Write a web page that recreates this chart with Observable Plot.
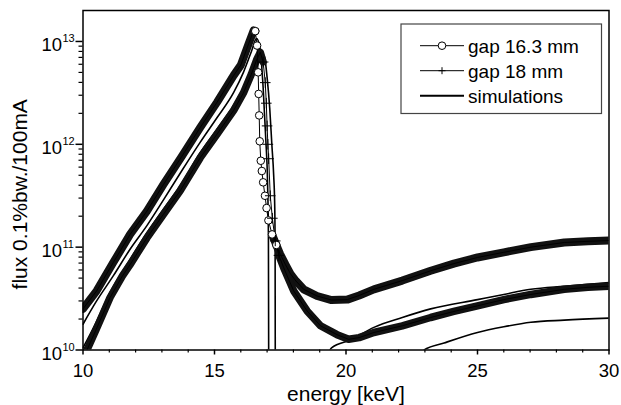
<!DOCTYPE html>
<html>
<head>
<meta charset="utf-8">
<script src="https://cdn.jsdelivr.net/npm/d3@7"></script>
<script src="https://cdn.jsdelivr.net/npm/@observablehq/plot@0.6"></script>
<style>
  html, body { margin: 0; padding: 0; background: #fff; }
  #chart { position: relative; width: 621px; height: 405px; }
</style>
</head>
<body>
<div id="chart"></div>
<script>
// ---- data ----
const xLabel = "energy [keV]";
const yLabel = "flux 0.1%bw./100mA";
const xMajorTicks = [10, 15, 20, 25, 30];
const xMinorTicks = [11, 12, 13, 14, 16, 17, 18, 19, 21, 22, 23, 24, 26, 27, 28, 29];
const yMajorTicks = [1e10, 1e11, 1e12, 1e13];
const yMinorTicks = [2e10, 3e10, 4e10, 5e10, 6e10, 7e10, 8e10, 9e10,
                     2e11, 3e11, 4e11, 5e11, 6e11, 7e11, 8e11, 9e11,
                     2e12, 3e12, 4e12, 5e12, 6e12, 7e12, 8e12, 9e12];
const legendLabels = ["gap 16.3 mm", "gap 18 mm", "simulations"];

// measured, gap 16.3 mm (circles)
const energyGap163 = [10.0, 10.52, 11.15, 11.79, 12.43, 13.06, 13.75, 14.46, 15.1, 15.73, 16.0, 16.3, 16.49, 16.55,
  16.62, 16.66, 16.68, 16.70, 16.72, 16.76, 16.80, 16.85, 16.92, 16.98, 17.05, 17.19, 17.35, 17.50, 17.70, 17.89,
  18.10, 18.39, 18.90, 19.45, 20.05, 20.50, 21.06, 22.14, 23.22, 24.10, 25.00, 26.00, 27.03, 28.30, 29.20, 30.00];
const fluxGap163 = [2.51e10, 3.76e10, 7.08e10, 1.33e11, 2.24e11, 4.07e11, 7.59e11, 1.46e12, 2.57e12, 4.68e12, 5.89e12, 9.55e12, 1.28e13, 1.26e13,
  9.12e12, 5.01e12, 3.09e12, 1.91e12, 1.07e12, 6.92e11, 5.50e11, 4.27e11, 3.16e11, 2.40e11, 1.82e11, 1.33e11, 1.05e11, 8.51e10, 6.76e10, 5.50e10,
  4.68e10, 3.89e10, 3.35e10, 3.06e10, 3.09e10, 3.39e10, 3.89e10, 4.73e10, 5.89e10, 6.92e10, 7.94e10, 8.91e10, 1.00e11, 1.11e11, 1.14e11, 1.16e11];

// measured, gap 18 mm (plus signs)
const energyGap18 = [10.15, 10.5, 11.03, 11.5, 11.79, 12.43, 13.06, 13.70, 14.46, 15.1, 15.73, 16.1, 16.4, 16.6, 16.74,
  16.85, 16.93, 16.97, 17.0, 17.03, 17.06, 17.12, 17.2, 17.31, 17.45, 17.63, 18.01, 18.52, 19.03, 19.66, 20.1, 20.5,
  21.06, 22.14, 23.22, 24.1, 25.0, 26.0, 27.03, 28.3, 29.2, 30.0];
const fluxGap18 = [1.00e10, 1.58e10, 3.24e10, 5.25e10, 6.76e10, 1.23e11, 2.09e11, 3.55e11, 7.41e11, 1.26e12, 2.14e12, 3.16e12, 4.79e12, 6.61e12, 7.85e12,
  6.31e12, 3.98e12, 2.51e12, 1.51e12, 1.00e12, 7.24e11, 3.16e11, 1.91e11, 1.15e11, 8.32e10, 6.31e10, 3.76e10, 2.40e10, 1.72e10, 1.41e10, 1.27e10, 1.32e10,
  1.48e10, 1.72e10, 2.07e10, 2.37e10, 2.69e10, 3.09e10, 3.47e10, 3.89e10, 4.07e10, 4.17e10];

// simulations
const energySim163 = [10.0, 10.5, 11.15, 11.79, 12.43, 13.06, 13.75, 14.46, 15.1, 15.73, 16.1, 16.4, 16.6, 16.72, 16.85, 16.95, 17.02, 17.05, 17.06, 17.062];
const fluxSim163 = [1.78e10, 2.95e10, 5.25e10, 9.55e10, 1.62e11, 2.88e11, 5.50e11, 1.05e12, 1.82e12, 3.20e12, 5.01e12, 7.94e12, 1.07e13, 8.91e12, 3.55e12, 1.12e12, 3.98e11, 1.26e11, 1.0e10, 7.9e9];
const energySim18 = [10.0, 10.5, 11.03, 11.79, 12.43, 13.06, 13.70, 14.46, 15.1, 15.73, 16.1, 16.4, 16.6, 16.8, 16.9, 17.0, 17.1, 17.18, 17.25, 17.29, 17.305, 17.31, 17.312];
const fluxSim18 = [1.05e10, 1.86e10, 3.63e10, 7.59e10, 1.38e11, 2.34e11, 3.98e11, 8.32e11, 1.41e12, 2.40e12, 3.55e12, 5.25e12, 6.76e12, 7.59e12, 7.08e12, 4.47e12, 2.24e12, 1.0e12, 5.01e11, 2.51e11, 1.0e11, 1.0e10, 7.9e9];
const energySimUpper = [19.30, 19.45, 20.2, 21.06, 22.14, 23.22, 25.0, 26.0, 27.03, 28.3, 30.0];
const fluxSimUpper = [8.9e9, 1.05e10, 1.26e10, 1.66e10, 2.07e10, 2.51e10, 3.09e10, 3.47e10, 3.89e10, 4.17e10, 4.52e10];
const energySimLower = [22.85, 22.97, 23.73, 25.0, 26.0, 27.03, 28.3, 30.0];
const fluxSimLower = [9.5e9, 1.0e10, 1.17e10, 1.48e10, 1.68e10, 1.86e10, 1.95e10, 2.04e10];

// ---- build tables ----
const rows = (E, F) => E.map((e, i) => ({energy: e, flux: F[i]}));
const gap163 = rows(energyGap163, fluxGap163);
const gap18 = rows(energyGap18, fluxGap18);
const sims = [
  rows(energySim163, fluxSim163),
  rows(energySim18, fluxSim18),
  rows(energySimUpper, fluxSimUpper),
  rows(energySimLower, fluxSimLower)
];

const font = "'Liberation Sans', Arial, Helvetica, sans-serif";
const ink = "#000";

const simMarks = sims.map(s => Plot.line(s, {x: "energy", y: "flux", stroke: ink, strokeWidth: 1.6, curve: "monotone-x", clip: true}));

const chart = Plot.plot({
  width: 621,
  height: 405,
  marginLeft: 82.5,
  marginRight: 12.5,
  marginTop: 10,
  marginBottom: 55.5,
  style: {fontFamily: font, background: "#fff", color: ink},
  x: {domain: [10, 30]},
  y: {type: "log", domain: [1e10, 2e13]},
  marks: [
    ...simMarks,
    // dense measured bands
    Plot.line(gap163, {x: "energy", y: d => (d.energy <= 16.55 || d.energy >= 17.19) ? d.flux : NaN, stroke: "#111", strokeWidth: 8, clip: true}),
    Plot.line(gap18, {x: "energy", y: d => (d.energy <= 16.85 || d.energy >= 17.45) ? d.flux : NaN, stroke: "#111", strokeWidth: 7.5, clip: true}),
    Plot.line(gap163, {x: "energy", y: "flux", stroke: ink, strokeWidth: 1, clip: true}),
    Plot.line(gap18, {x: "energy", y: "flux", stroke: ink, strokeWidth: 1, clip: true}),
    Plot.dot(gap163, {filter: d => d.energy > 16.5 && d.energy < 17.4, x: "energy", y: "flux", r: 3.8, fill: "#fff", stroke: ink, strokeWidth: 1}),
    Plot.dot(gap18, {filter: d => d.energy > 16.8 && d.energy < 17.6, x: "energy", y: "flux", symbol: "plus", r: 3.5, stroke: ink, strokeWidth: 1}),
    // axes
    Plot.axisX(xMajorTicks, {anchor: "bottom", tickSize: 5, tickPadding: 9, strokeWidth: 1.5, fontSize: 18.5, tickFormat: d => String(d), label: null}),
    Plot.axisX(xMinorTicks, {anchor: "bottom", tickSize: 3, strokeWidth: 1.2, tickFormat: () => "", label: null}),
    Plot.axisY(yMajorTicks, {anchor: "left", tickSize: 7, strokeWidth: 1.5, tickFormat: () => "", label: null}),
    Plot.axisY(yMinorTicks, {anchor: "left", tickSize: 4, strokeWidth: 1.2, tickFormat: () => "", label: null}),
    Plot.text(yMajorTicks, {y: d => d, text: () => "10", frameAnchor: "left", textAnchor: "end", lineAnchor: "middle", dx: -21, dy: 4, fontSize: 18.5, fill: ink}),
    Plot.text(yMajorTicks, {y: d => d, text: d => String(Math.round(Math.log10(d))), frameAnchor: "left", textAnchor: "start", lineAnchor: "middle", dx: -20.5, dy: -3, fontSize: 11, fill: ink}),
    Plot.text([xLabel], {text: d => d, frameAnchor: "bottom", textAnchor: "middle", lineAnchor: "middle", dy: 44, fontSize: 21, fill: ink}),
    Plot.text([yLabel], {text: d => d, frameAnchor: "left", textAnchor: "middle", lineAnchor: "middle", rotate: -90, dx: -62.5, dy: 14, fontSize: 21, fill: ink}),
    Plot.frame({stroke: ink, strokeWidth: 1.5})
  ]
});

document.getElementById("chart").appendChild(chart);

// ---- legend (inside the plot, top right) ----
const svg = d3.select(chart);
const lg = svg.append("g").attr("font-family", font).attr("font-size", 19).attr("text-anchor", "start");
lg.append("rect").attr("x", 401).attr("y", 24).attr("width", 200.5).attr("height", 89.5)
  .attr("fill", "#fff").attr("stroke", "#444").attr("stroke-width", 1.2);
const rowY = [45.7, 70.7, 95.7];
legendLabels.forEach((label, i) => {
  const y = rowY[i];
  lg.append("line").attr("x1", 420).attr("x2", 464).attr("y1", y).attr("y2", y)
    .attr("stroke", ink).attr("stroke-width", i === 2 ? 2 : 1);
  if (i === 0) {
    lg.append("circle").attr("cx", 442).attr("cy", y).attr("r", 3.8).attr("fill", "#fff").attr("stroke", ink);
  } else if (i === 1) {
    lg.append("path").attr("d", `M438.5,${y}h7M442,${y - 3.5}v7`).attr("stroke", ink).attr("stroke-width", 1);
  }
  lg.append("text").attr("x", 468).attr("y", y + 6.8).attr("text-anchor", "start").attr("fill", ink).text(label);
});
</script>
</body>
</html>
